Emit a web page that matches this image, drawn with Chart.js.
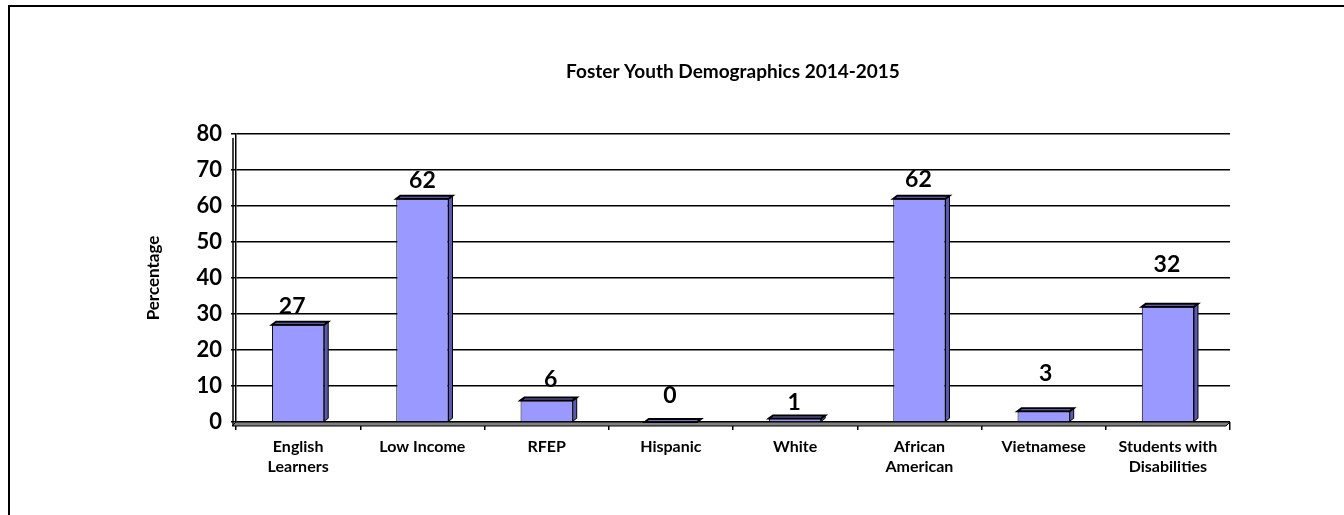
<!DOCTYPE html>
<html>
<head>
<meta charset="utf-8">
<script src="https://cdn.jsdelivr.net/npm/chart.js@4"></script>
<style>
  html, body { margin: 0; padding: 0; background: #fff; }
  #wrap { width: 1344px; height: 515px; position: relative; }
</style>
</head>
<body>
<div id="wrap"><canvas id="demoChart" width="1344" height="515"></canvas></div>
<script>
// Datos del gráfico
const chartTitle = 'Foster Youth Demographics 2014-2015';
const categories = [
  ['English', 'Learners'], 'Low Income', 'RFEP', 'Hispanic', 'White',
  ['African', 'American'], 'Vietnamese', ['Students with', 'Disabilities']
];
const percentages = [27, 62, 6, 0, 1, 62, 3, 32];
const yTicks = [0, 10, 20, 30, 40, 50, 60, 70, 80];

const FONT = 'Lato, "DejaVu Sans", sans-serif';
const DEPTH = 4;
// Ajuste manual de las etiquetas (como en el original): [dx, distancia sobre la barra]
const labelNudge = [[-5, 11], [1, 11], [5, 13], [0, 19], [0, 8], [0, 12], [3, 30], [0, 35]];

// Plugin: marco, título, suelo, caras 3D y etiquetas
const chart3d = {
  id: 'chart3d',
  beforeDraw(chart) {
    const ctx = chart.ctx;
    ctx.save();
    ctx.fillStyle = '#fff';
    ctx.fillRect(0, 0, chart.width, chart.height);
    // Marco exterior
    ctx.strokeStyle = '#000';
    ctx.lineWidth = 2;
    ctx.beginPath();
    ctx.moveTo(9, chart.height);
    ctx.lineTo(9, 6);
    ctx.lineTo(chart.width, 6);
    ctx.stroke();
    // Título centrado sobre el área del gráfico
    const a = chart.chartArea;
    ctx.fillStyle = '#000';
    ctx.font = 'bold 19px ' + FONT;
    ctx.textAlign = 'center';
    ctx.textBaseline = 'middle';
    ctx.fillText(chartTitle, (a.left + a.right) / 2, 72);
    ctx.restore();
  },
  beforeDatasetsDraw(chart) {
    const { ctx, chartArea: a } = chart;
    ctx.save();
    // Suelo gris
    ctx.fillStyle = '#808080';
    ctx.strokeStyle = '#000';
    ctx.lineWidth = 1;
    ctx.beginPath();
    ctx.moveTo(a.left, a.bottom);
    ctx.lineTo(a.right, a.bottom);
    ctx.lineTo(a.right - DEPTH, a.bottom + DEPTH);
    ctx.lineTo(a.left - DEPTH, a.bottom + DEPTH);
    ctx.closePath();
    ctx.fill();
    ctx.stroke();
    // Pared lateral izquierda
    ctx.lineWidth = 1.5;
    ctx.beginPath();
    ctx.moveTo(a.left - DEPTH + 1, a.top + DEPTH);
    ctx.lineTo(a.left - DEPTH + 1, a.bottom + DEPTH);
    ctx.stroke();
    ctx.restore();
  },
  afterDatasetsDraw(chart) {
    const { ctx } = chart;
    const meta = chart.getDatasetMeta(0);
    ctx.save();
    meta.data.forEach((bar, i) => {
      const half = bar.width / 2;
      const x1 = bar.x + half;
      const x0 = bar.x - half;
      const top = bar.y;
      const base = bar.base;
      // Cara lateral
      ctx.fillStyle = '#5a5ab4';
      ctx.strokeStyle = '#000';
      ctx.lineWidth = 1;
      ctx.beginPath();
      ctx.moveTo(x1, top);
      ctx.lineTo(x1 + DEPTH, top - DEPTH + 1);
      ctx.lineTo(x1 + DEPTH, base - DEPTH + 1);
      ctx.lineTo(x1, base);
      ctx.closePath();
      ctx.fill();
      ctx.stroke();
      // Cara superior
      ctx.fillStyle = '#7777d0';
      ctx.beginPath();
      ctx.moveTo(x0, top);
      ctx.lineTo(x0 + DEPTH, top - DEPTH + 1);
      ctx.lineTo(x1 + DEPTH, top - DEPTH + 1);
      ctx.lineTo(x1, top);
      ctx.closePath();
      ctx.fill();
      ctx.lineWidth = 2;
      ctx.stroke();
      // Etiqueta de valor
      const [dx, lift] = labelNudge[i];
      ctx.fillStyle = '#000';
      ctx.font = 'bold 23px ' + FONT;
      ctx.textAlign = 'center';
      ctx.textBaseline = 'alphabetic';
      ctx.fillText(String(percentages[i]), bar.x - 1 + dx, top - lift);
    });
    ctx.restore();
  }
};

const ctx = document.getElementById('demoChart').getContext('2d');
new Chart(ctx, {
  type: 'bar',
  data: {
    labels: categories,
    datasets: [{
      data: percentages,
      backgroundColor: '#9999ff',
      borderColor: '#000',
      borderWidth: 1,
      categoryPercentage: 0.84,
      barPercentage: 0.5
    }]
  },
  options: {
    responsive: false,
    animation: false,
    layout: { padding: { left: 0, right: 114, top: 134, bottom: 0 } },
    plugins: {
      legend: { display: false },
      tooltip: { enabled: false },
      title: { display: false }
    },
    scales: {
      x: {
        offset: true,
        grid: {
          display: true,
          drawOnChartArea: false,
          offset: true,
          color: '#000',
          lineWidth: 1.5,
          tickLength: 8
        },
        border: { display: false },
        ticks: {
          color: '#000',
          padding: 7,
          maxRotation: 0,
          autoSkip: false,
          font: { family: FONT, size: 16, weight: 'bold', lineHeight: 1.25 }
        },
        afterFit(scale) { scale.height = 93; }
      },
      y: {
        min: 0,
        max: 80,
        afterBuildTicks(scale) { scale.ticks = yTicks.map(v => ({ value: v })); },
        grid: {
          color: '#000',
          lineWidth: 1.5,
          tickLength: 5
        },
        border: { display: true, color: '#000', width: 1.5 },
        ticks: {
          color: '#000',
          padding: 9,
          font: { family: FONT, size: 22, weight: 'bold' }
        },
        title: {
          display: true,
          text: 'Percentage',
          color: '#000',
          font: { family: FONT, size: 17, weight: 'bold' },
          padding: { top: 143, bottom: 0 }
        },
        afterFit(scale) { scale.width = 236; }
      }
    }
  },
  plugins: [chart3d]
});
</script>
</body>
</html>
